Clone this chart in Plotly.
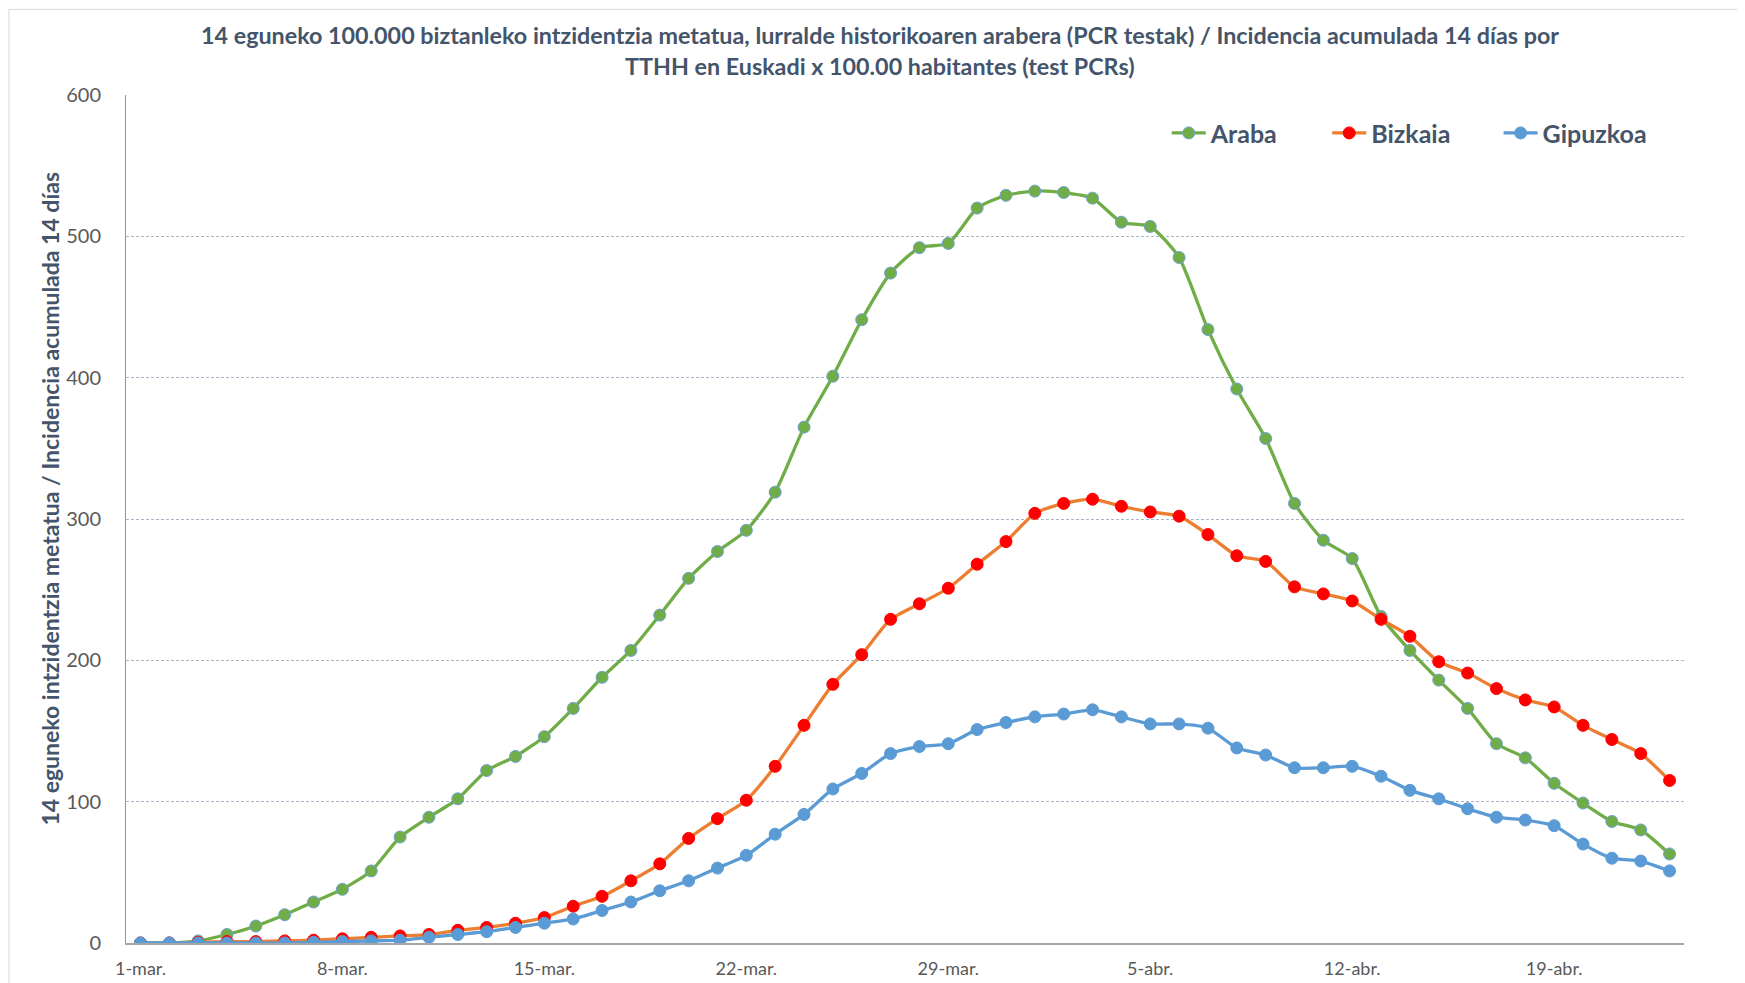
import plotly.graph_objects as go
import pandas as pd

dates = pd.date_range("2020-03-01", "2020-04-23", freq="D")

araba = [0, 0, 1.5, 6, 12, 20, 29, 38, 51, 75, 89, 102, 122, 132, 146, 166, 188, 207,
         232, 258, 277, 292, 319, 365, 401, 441, 474, 492, 495, 520, 529, 532, 531, 527,
         510, 507, 485, 434, 392, 357, 311, 285, 272, 231, 207, 186, 166, 141, 131, 113,
         99, 86, 80, 63]
bizkaia = [0, 0, 0.5, 1, 1, 1.5, 2, 3, 4, 5, 6, 9, 11, 14, 18, 26, 33, 44, 56, 74, 88,
           101, 125, 154, 183, 204, 229, 240, 251, 268, 284, 304, 311, 314, 309, 305, 302,
           289, 274, 270, 252, 247, 242, 229, 217, 199, 191, 180, 172, 167, 154, 144, 134, 115]
gipuzkoa = [0, 0, 0, 0, 0, 0, 0.5, 1, 1.5, 2, 4, 6, 8, 11, 14, 17, 23, 29, 37, 44, 53,
            62, 77, 91, 109, 120, 134, 139, 141, 151, 156, 160, 162, 165, 160, 155, 155,
            152, 138, 133, 124, 124, 125, 118, 108, 102, 95, 89, 87, 83, 70, 60, 58, 51]

tick_dates = ["2020-03-01", "2020-03-08", "2020-03-15", "2020-03-22", "2020-03-29",
              "2020-04-05", "2020-04-12", "2020-04-19"]
tick_labels = ["1-mar.", "8-mar.", "15-mar.", "22-mar.", "29-mar.", "5-abr.", "12-abr.", "19-abr."]

title_line1 = ("14 eguneko 100.000 biztanleko intzidentzia metatua, lurralde historikoaren arabera "
               "(PCR testak) / Incidencia acumulada 14 días por")
title_line2 = "TTHH en Euskadi x 100.00 habitantes (test PCRs)"
ytitle = "14 eguneko intzidentzia metatua / Incidencia acumulada 14 días"

series_names = ["Araba", "Bizkaia", "Gipuzkoa"]
series_vals = [araba, bizkaia, gipuzkoa]
line_colors = ["#70AD47", "#ED7D31", "#5B9BD5"]
marker_colors = ["#70AD47", "#FF0000", "#5B9BD5"]
marker_line_colors = ["#6FA0D8", "#FF0000", "#5B9BD5"]
legend_ids = ["legend", "legend2", "legend3"]
legend_x = [0.668, 0.771, 0.881]

TXT = "#44546A"
FONT = "Lato, Noto Sans"

fig = go.Figure()
for name, vals, lc, mc, mlc, lg in zip(series_names, series_vals, line_colors,
                                       marker_colors, marker_line_colors, legend_ids):
    fig.add_trace(go.Scatter(
        x=dates, y=vals, name=name, mode="lines+markers", legend=lg,
        line=dict(color=lc, width=3.3, shape="spline", smoothing=0.6),
        marker=dict(color=mc, size=12, line=dict(color=mlc, width=1)),
    ))

legend_common = dict(orientation="h", xanchor="left", y=0.955, yanchor="middle",
                     font=dict(family=FONT, size=25, color=TXT, weight="bold"),
                     bgcolor="rgba(0,0,0,0)", itemwidth=34)

fig.update_layout(
    width=1745, height=983,
    margin=dict(l=118, r=69, t=87, b=46),
    paper_bgcolor="white", plot_bgcolor="white",
    showlegend=True,
    legend=dict(x=legend_x[0], **legend_common),
    legend2=dict(x=legend_x[1], **legend_common),
    legend3=dict(x=legend_x[2], **legend_common),
)

fig.add_annotation(text="<b>" + title_line1 + "</b>", xref="paper", yref="paper",
                   x=0.484, y=1.0712, xanchor="center", yanchor="middle", showarrow=False,
                   font=dict(family=FONT, size=23.3, color=TXT))
fig.add_annotation(text="<b>" + title_line2 + "</b>", xref="paper", yref="paper",
                   x=0.484, y=1.0345, xanchor="center", yanchor="middle", showarrow=False,
                   font=dict(family=FONT, size=23.3, color=TXT))
fig.add_annotation(text="<b>" + ytitle + "</b>", xref="paper", yref="paper",
                   x=-0.0488, y=0.524, xanchor="center", yanchor="middle", showarrow=False,
                   textangle=-90, font=dict(family=FONT, size=23, color=TXT))

fig.update_xaxes(
    range=["2020-02-29 12:00", "2020-04-23 12:00"],
    tickvals=tick_dates, ticktext=tick_labels,
    tickfont=dict(family=FONT, size=18, color="#595959"),
    showgrid=False, showline=True, linecolor="#A6A6A6", linewidth=2,
    ticks="", zeroline=False, ticklabelstandoff=8,
)
fig.update_yaxes(
    range=[0, 600], dtick=100,
    tickfont=dict(family=FONT, size=20, color="#595959"),
    showgrid=True, gridcolor="#A9B6C8", gridwidth=1, griddash="3px,2px",
    showline=True, linecolor="#8497B0", linewidth=1,
    ticks="", zeroline=False, ticklabelstandoff=20,
)

# outer chart border (left and top)
fig.add_shape(type="rect", xref="paper", yref="paper",
              x0=-0.0751, x1=1.2, y0=-0.2, y1=1.101,
              line=dict(color="#D9D9D9", width=1), fillcolor="rgba(0,0,0,0)", layer="below")

fig.write_html("out.html")
